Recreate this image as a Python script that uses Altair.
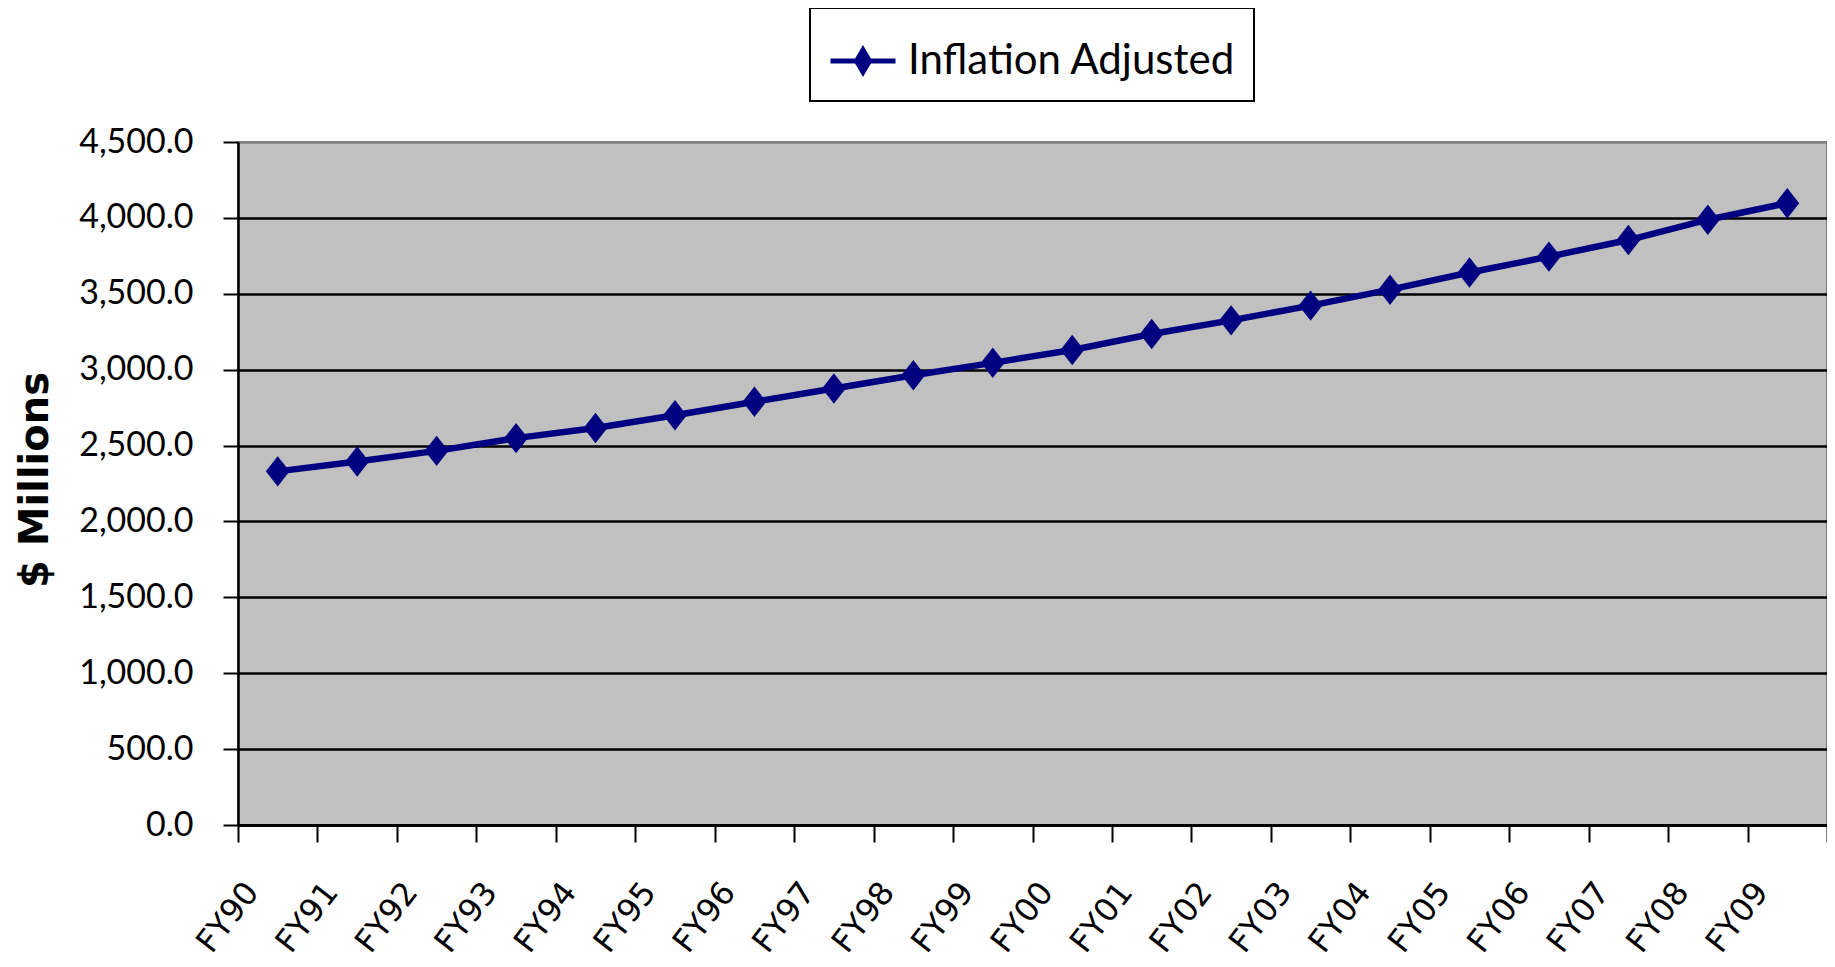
import altair as alt
import pandas as pd

years = ["FY90", "FY91", "FY92", "FY93", "FY94", "FY95", "FY96", "FY97", "FY98", "FY99",
         "FY00", "FY01", "FY02", "FY03", "FY04", "FY05", "FY06", "FY07", "FY08", "FY09"]
values = [2330, 2395, 2465, 2549, 2616, 2700, 2789, 2876, 2963, 3045,
          3130, 3235, 3325, 3422, 3527, 3640, 3745, 3854, 3988, 4097]
series_name = "Inflation Adjusted"
y_ticks = [0, 500, 1000, 1500, 2000, 2500, 3000, 3500, 4000, 4500]

df = pd.DataFrame({"year": years, "value": values, "series": [series_name] * len(years)})

NAVY = "#000080"
DIAMOND = "M0,-1.15L0.9,0L0,1.15L-0.9,0Z"
LEGEND_SYM = "M-1,0L1,0M0,-0.34L0.2,0L0,0.34L-0.2,0Z"

PLOT_W = 1589
PLOT_H = 683

x_enc = alt.X(
    "year:N",
    sort=years,
    bandPosition=0.5,
    scale=alt.Scale(type="band", paddingInner=0, paddingOuter=0),
    axis=alt.Axis(
        title=None,
        labelAngle=-52,
        labelAlign="right",
        labelBaseline="middle",
        labelFont="DejaVu Sans",
        labelFontSize=32,
        labelColor="black",
        labelPadding=44,
        labelOffset=-26,
        tickBand="extent",
        tickSize=17,
        tickWidth=2,
        tickColor="black",
        domainColor="black",
        domainWidth=3,
        grid=False,
        labelOverlap=False,
        labelBound=False,
    ),
)

y_enc = alt.Y(
    "value:Q",
    scale=alt.Scale(domain=[0, 4500], nice=False, zero=True),
    axis=alt.Axis(
        title="$ Millions",
        values=y_ticks,
        format=",.1f",
        labelFont="Lato",
        labelFontSize=34,
        labelColor="black",
        labelPadding=30,
        tickSize=15,
        tickWidth=2,
        tickColor="black",
        domainColor="black",
        domainWidth=2.5,
        grid=True,
        gridColor={"condition": {"test": "datum.value == 4500", "value": "#808080"}, "value": "black"},
        gridWidth=2.5,
        titleFont="DejaVu Sans",
        titleFontWeight="bold",
        titleFontSize=40,
        titleColor="black",
        titleAngle=-90,
        titleAlign="center",
        titleBaseline="middle",
        titleX=-203,
        titleY=PLOT_H / 2 - 4,
        labelOverlap=False,
    ),
)

color_enc = alt.Color(
    "series:N",
    scale=alt.Scale(domain=[series_name], range=[NAVY]),
    legend=alt.Legend(
        title=None,
        orient="none",
        legendX=572,
        legendY=-134,
        symbolType=LEGEND_SYM,
        symbolSize=4225,
        symbolStrokeWidth=5,
        symbolFillColor=NAVY,
        symbolStrokeColor=NAVY,
        symbolOpacity=1,
        labelFont="Lato",
        labelFontSize=42,
        labelColor="black",
        labelOffset=10,
        labelLimit=1000,
        padding=18,
        fillColor="white",
        strokeColor="black",
    ),
)

line = alt.Chart(df).mark_line(strokeWidth=6.5, color=NAVY).encode(x=x_enc, y=y_enc)
points = alt.Chart(df).mark_point(
    shape=DIAMOND, filled=True, size=700, opacity=1, color=NAVY
).encode(x=x_enc, y=y_enc, color=color_enc)

chart = (
    alt.layer(line, points)
    .properties(
        width=PLOT_W,
        height=PLOT_H,
        autosize=alt.AutoSizeParams(type="none"),
        padding={"left": 230, "top": 134, "right": 0, "bottom": 134},
        background="white",
    )
    .configure_view(fill="#C0C0C0", stroke="#808080", strokeWidth=2)
    .configure_legend(strokeWidth=2)
)

chart.save("out.html", embed_options={"renderer": "svg", "actions": False})
